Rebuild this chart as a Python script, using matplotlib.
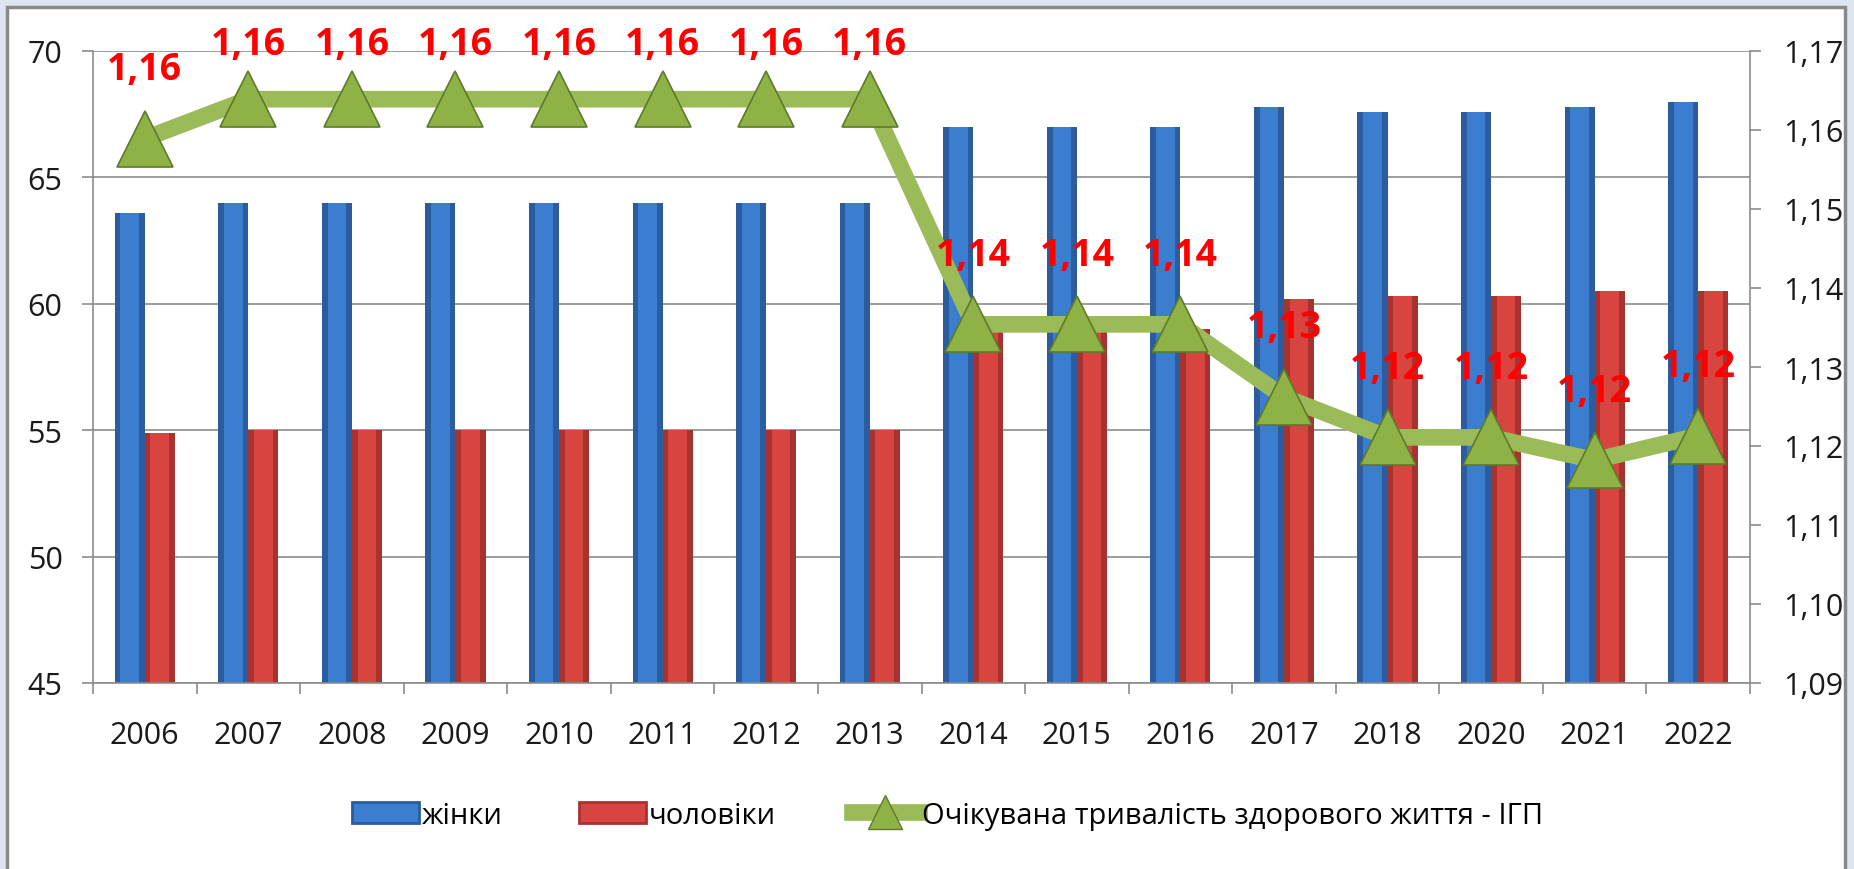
# bar + line chart: life expectancy (women / men) and healthy life index
import matplotlib
matplotlib.use("Agg")
import matplotlib.pyplot as plt
from matplotlib.patches import Rectangle, Patch
from matplotlib.lines import Line2D
import numpy as np

plt.rcParams['font.family'] = ['Liberation Sans Narrow', 'Open Sans', 'DejaVu Sans']

years = ['2006', '2007', '2008', '2009', '2010', '2011', '2012', '2013',
         '2014', '2015', '2016', '2017', '2018', '2020', '2021', '2022']
women = [63.6, 64.0, 64.0, 64.0, 64.0, 64.0, 64.0, 64.0,
         67.0, 67.0, 67.0, 67.8, 67.6, 67.6, 67.8, 68.0]
men = [54.9, 55.0, 55.0, 55.0, 55.0, 55.0, 55.0, 55.0,
       59.0, 59.0, 59.0, 60.2, 60.3, 60.3, 60.5, 60.5]
igp = [1.1589, 1.1639, 1.1639, 1.1639, 1.1639, 1.1639, 1.1639, 1.1639,
       1.1354, 1.1354, 1.1354, 1.1262, 1.1211, 1.1211, 1.1182, 1.1213]
igp_labels = ['1,16', '1,16', '1,16', '1,16', '1,16', '1,16', '1,16', '1,16',
              '1,14', '1,14', '1,14', '1,13', '1,12', '1,12', '1,12', '1,12']
left_ticks = [45, 50, 55, 60, 65, 70]
right_ticks = [1.09, 1.10, 1.11, 1.12, 1.13, 1.14, 1.15, 1.16, 1.17]

W, H = 1854, 870
fig = plt.figure(figsize=(W / 100, H / 100), dpi=100)
fig.patch.set_facecolor('#dce5f1')
# white chart area with gray frame
frame = Rectangle((7 / W, -0.01), (1845 - 7) / W, (H - 8) / H + 0.01,
                  transform=fig.transFigure, facecolor='white',
                  edgecolor='#8a8a8a', linewidth=2.5, zorder=-5)
fig.patches.append(frame)

ax = fig.add_axes([93 / W, (H - 684) / H, (1750 - 93) / W, (684 - 52) / H])
ax.set_facecolor('none')
x = np.arange(len(years))
bw = 0.29
blue, blue_d = '#3b7dcf', '#2a5c9e'
red, red_d = '#d8443f', '#a83230'

ax.bar(x - bw / 2, women, bw, color=blue_d, zorder=2)
ax.bar(x - bw / 2, women, bw * 0.62, color=blue, zorder=2)
ax.bar(x + bw / 2, men, bw, color=red_d, zorder=2)
ax.bar(x + bw / 2, men, bw * 0.62, color=red, zorder=2)

ax.set_ylim(45, 70)
ax.set_xlim(-0.5, len(years) - 0.5)
ax.set_yticks(left_ticks)
ax.yaxis.grid(True, color='#8c8c8c', linewidth=1.2)
ax.set_axisbelow(True)
ax.set_xticks(x)
ax.set_xticklabels(years)
ax.set_xticks(np.arange(len(years) + 1) - 0.5, minor=True)
ax.tick_params(axis='x', which='major', length=0, pad=27, labelsize=22, colors='#1a1a1a')
ax.tick_params(axis='x', which='minor', length=8, width=1.2, color='#8c8c8c', direction='out')
ax.tick_params(axis='y', length=8, width=1.2, color='#8c8c8c', pad=14, labelsize=22,
               labelcolor='#1a1a1a')
for s in ['top', 'right']:
    ax.spines[s].set_visible(False)
for s in ['left', 'bottom']:
    ax.spines[s].set_color('#8c8c8c')
    ax.spines[s].set_linewidth(1.2)

ax2 = ax.twinx()
ax2.set_ylim(1.09, 1.17)
ax2.set_yticks(right_ticks)
ax2.set_yticklabels([f'{t:.2f}'.replace('.', ',') for t in right_ticks])
ax2.tick_params(axis='y', length=8, width=1.2, color='#8c8c8c', pad=16, labelsize=22,
                labelcolor='#1a1a1a')
for s in ['top', 'left', 'bottom']:
    ax2.spines[s].set_visible(False)
ax2.spines['right'].set_color('#8c8c8c')
ax2.spines['right'].set_linewidth(1.2)

green = '#9bbb59'
ax2.plot(x, igp, color=green, linewidth=12, solid_joinstyle='miter', zorder=3)
ax2.plot(x, igp, linestyle='none', marker='^', markersize=40,
         markerfacecolor='#8fb247', markeredgecolor='#5e7a2b', markeredgewidth=1.2, zorder=4)
# labels sit above the marker, kept inside the plot area at the top
for xi, v, lab in zip(x, igp, igp_labels):
    ax2.annotate(lab, (xi, v), xytext=(xi, min(v + 0.0088, 1.1709)),
                 ha='center', va='center', color='#ff0000', fontsize=27,
                 fontweight='bold', zorder=5, annotation_clip=False)

handles = [Patch(facecolor=blue, edgecolor=blue_d, linewidth=2),
           Patch(facecolor=red, edgecolor=red_d, linewidth=2),
           Line2D([], [], color=green, linewidth=12, marker='^', markersize=24,
                  markerfacecolor='#8fb247', markeredgecolor='#5e7a2b')]
fig.legend(handles, ['жінки', 'чоловіки', 'Очікувана тривалість здорового життя - ІГП'],
           loc='center', bbox_to_anchor=(0.511, 0.062), ncol=3, frameon=False,
           fontsize=21, handlelength=2.3, handletextpad=0.1, columnspacing=2.6)

fig.savefig('out.png', dpi=100, facecolor=fig.get_facecolor())
